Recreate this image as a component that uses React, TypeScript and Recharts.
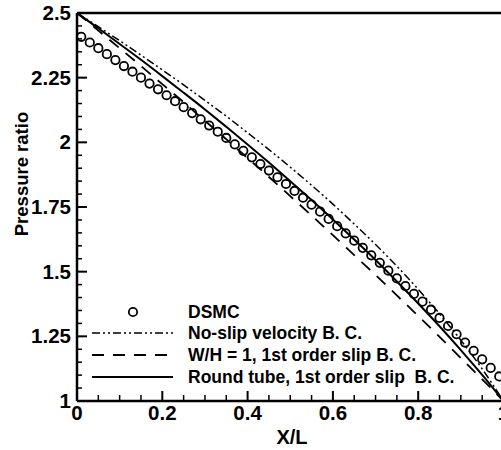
import React from 'react';
import { ComposedChart, Line, Scatter, XAxis, YAxis, ReferenceLine, Legend } from 'recharts';

// DSMC samples (hollow circles)
const dsmcX = [
  0.01, 0.03, 0.05, 0.07, 0.09, 0.11, 0.13, 0.15, 0.17, 0.19,
  0.21, 0.23, 0.25, 0.27, 0.29, 0.31, 0.33, 0.35, 0.37, 0.39,
  0.41, 0.43, 0.45, 0.47, 0.49, 0.51, 0.53, 0.55, 0.57, 0.59,
  0.61, 0.63, 0.65, 0.67, 0.69, 0.71, 0.73, 0.75, 0.77, 0.79,
  0.81, 0.83, 0.85, 0.87, 0.89, 0.91, 0.93, 0.95, 0.97, 0.99,
];
const dsmcP = [
  2.408, 2.386, 2.364, 2.341, 2.318, 2.295, 2.273, 2.25, 2.227, 2.205,
  2.182, 2.159, 2.136, 2.113, 2.089, 2.065, 2.041, 2.017, 1.992, 1.967,
  1.942, 1.916, 1.891, 1.865, 1.839, 1.812, 1.786, 1.759, 1.732, 1.704,
  1.676, 1.648, 1.62, 1.592, 1.563, 1.534, 1.504, 1.474, 1.444, 1.414,
  1.384, 1.353, 1.321, 1.29, 1.258, 1.226, 1.194, 1.161, 1.128, 1.095,
];

// analytical curves
const curveX = [0, 0.05, 0.1, 0.15, 0.2, 0.25, 0.3, 0.35, 0.4, 0.45, 0.5, 0.55, 0.6, 0.65, 0.7, 0.75, 0.8, 0.85, 0.9, 0.95, 1];
const noSlip = [2.5, 2.447, 2.393, 2.337, 2.28, 2.222, 2.162, 2.101, 2.037, 1.972, 1.904, 1.834, 1.761, 1.684, 1.605, 1.521, 1.432, 1.337, 1.235, 1.124, 1.0];
const squareSlip = [2.5, 2.432, 2.364, 2.295, 2.225, 2.155, 2.083, 2.012, 1.939, 1.866, 1.792, 1.717, 1.641, 1.564, 1.487, 1.408, 1.329, 1.248, 1.166, 1.084, 1.0];
const roundSlip = [2.5, 2.441, 2.38, 2.319, 2.256, 2.192, 2.127, 2.06, 1.992, 1.922, 1.85, 1.777, 1.702, 1.624, 1.545, 1.462, 1.377, 1.289, 1.197, 1.101, 1.0];

const seriesNames = [
  'DSMC',
  'No-slip velocity B. C.',
  'W/H = 1, 1st order slip B. C.',
  'Round tube, 1st order slip  B. C.',
];

const xTicks = [0, 0.05, 0.1, 0.15, 0.2, 0.25, 0.3, 0.35, 0.4, 0.45, 0.5, 0.55, 0.6, 0.65, 0.7, 0.75, 0.8, 0.85, 0.9, 0.95, 1];
const xLabels = ['0', '0.2', '0.4', '0.6', '0.8', '1'];
const yTicks = [1, 1.05, 1.1, 1.15, 1.2, 1.25, 1.3, 1.35, 1.4, 1.45, 1.5, 1.55, 1.6, 1.65, 1.7, 1.75, 1.8, 1.85, 1.9, 1.95, 2, 2.05, 2.1, 2.15, 2.2, 2.25, 2.3, 2.35, 2.4, 2.45, 2.5];
const yLabels = ['1', '1.25', '1.5', '1.75', '2', '2.25', '2.5'];

const toPts = (xs: number[], ys: number[]) => xs.map((x, i) => ({ x, y: ys[i] }));

const FONT = '"Liberation Sans", Arial, sans-serif';
const AXIS_X = 77;
const AXIS_Y = 401;
const NOSLIP_DASH = '8 3 2 3 2 3';
const SLIP_DASH = '12 9';

const YTick = (props: any) => {
  const { y, payload } = props;
  const label = yLabels.find((l) => Math.abs(Number(l) - payload.value) < 1e-6);
  return (
    <g>
      <line x1={AXIS_X} x2={AXIS_X + (label ? 10 : 5)} y1={y} y2={y} stroke="#000" strokeWidth={label ? 2 : 1.5} />
      {label && (
        <text x={71} y={y} dy={7} textAnchor="end" fontSize={20.5} fontWeight="bold" fontFamily={FONT} fill="#000">
          {label}
        </text>
      )}
    </g>
  );
};

const XTick = (props: any) => {
  const { x, payload } = props;
  const label = xLabels.find((l) => Math.abs(Number(l) - payload.value) < 1e-6);
  return (
    <g>
      <line x1={x} x2={x} y1={AXIS_Y} y2={AXIS_Y - (label ? 10 : 6)} stroke="#000" strokeWidth={label ? 2 : 1.5} />
      {label && (
        <text x={x} y={420} textAnchor="middle" fontSize={20.5} fontWeight="bold" fontFamily={FONT} fill="#000">
          {label}
        </text>
      )}
    </g>
  );
};

const LegendBox = () => {
  const rows = [312, 333, 355, 377];
  const txt = { fontSize: 17.5, fontWeight: 'bold' as const, fontFamily: FONT, fill: '#000' };
  return (
    <svg width={501} height={450} style={{ position: 'absolute', left: 0, top: 0 }}>
      <circle cx={133} cy={rows[0]} r={4.2} fill="none" stroke="#000" strokeWidth={1.8} />
      <line x1={92} x2={173} y1={rows[1]} y2={rows[1]} stroke="#000" strokeWidth={1.5} strokeDasharray={NOSLIP_DASH} />
      <line x1={92} x2={173} y1={rows[2]} y2={rows[2]} stroke="#000" strokeWidth={1.8} strokeDasharray={SLIP_DASH} />
      <line x1={92} x2={173} y1={rows[3]} y2={rows[3]} stroke="#000" strokeWidth={2} />
      {seriesNames.map((name, i) => (
        <text key={name} x={188} y={rows[i] + 6} style={{ whiteSpace: 'pre' }} {...txt}>
          {name}
        </text>
      ))}
    </svg>
  );
};

const Circle = (p: any) => <circle cx={p.cx} cy={p.cy} r={4.2} fill="none" stroke="#000" strokeWidth={1.8} />;

export default function App() {
  return (
    <div style={{ position: 'absolute', left: 0, top: 0, width: 501, height: 450, overflow: 'hidden', background: '#fff' }}>
      <ComposedChart width={510} height={450} margin={{ top: 13, right: 6.5, bottom: 0, left: 0 }}>
        <XAxis
          type="number"
          dataKey="x"
          domain={[0, 1]}
          ticks={xTicks}
          interval={0}
          height={49}
          tick={<XTick />}
          tickLine={false}
          axisLine={{ stroke: '#000', strokeWidth: 2.5 }}
          label={{
            content: () => (
              <text x={292} y={444} textAnchor="middle" fontSize={20} fontWeight="bold" fontFamily={FONT} fill="#000">
                X/L
              </text>
            ),
          }}
        />
        <YAxis
          type="number"
          dataKey="y"
          domain={[1, 2.5]}
          ticks={yTicks}
          interval={0}
          width={77}
          tick={<YTick />}
          tickLine={false}
          axisLine={{ stroke: '#000', strokeWidth: 2.5 }}
          label={{
            content: () => (
              <text transform="translate(28,174) rotate(-90)" textAnchor="middle" fontSize={18.5} fontWeight="bold" fontFamily={FONT} fill="#000">
                Pressure ratio
              </text>
            ),
          }}
        />
        <ReferenceLine y={2.5} stroke="#000" strokeWidth={2.5} />
        <Line data={toPts(curveX, noSlip)} dataKey="y" type="monotone" stroke="#000" strokeWidth={1.5} strokeDasharray={NOSLIP_DASH} dot={false} activeDot={false} isAnimationActive={false} />
        <Line data={toPts(curveX, squareSlip)} dataKey="y" type="monotone" stroke="#000" strokeWidth={1.8} strokeDasharray={SLIP_DASH} dot={false} activeDot={false} isAnimationActive={false} />
        <Line data={toPts(curveX, roundSlip)} dataKey="y" type="monotone" stroke="#000" strokeWidth={2} dot={false} activeDot={false} isAnimationActive={false} />
        <Scatter data={toPts(dsmcX, dsmcP)} dataKey="y" shape={<Circle />} isAnimationActive={false} />
        <Legend
          layout="vertical"
          align="center"
          verticalAlign="middle"
          content={() => <LegendBox />}
          wrapperStyle={{ position: 'absolute', left: 0, top: 0, width: 501, height: 450, pointerEvents: 'none' }}
        />
      </ComposedChart>
    </div>
  );
}
